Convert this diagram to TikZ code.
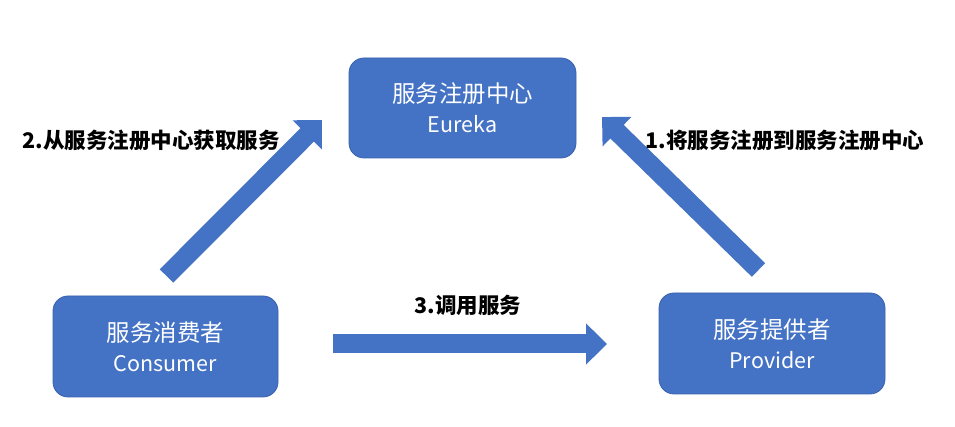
\documentclass[tikz,border=0pt]{standalone}
\usepackage{fontspec}
\setmainfont{Noto Sans CJK SC}
\usetikzlibrary{arrows.meta}
\definecolor{boxblue}{HTML}{4472C4}
\definecolor{boxborder}{HTML}{3A63AD}
\begin{document}
\begin{tikzpicture}[x=1pt,y=1pt,
  svcbox/.style={rectangle, rounded corners=15pt, fill=boxblue, draw=boxborder, line width=0.8pt,
    text=white, align=center, inner sep=0pt, font=\fontsize{23.5}{30}\selectfont},
  latin/.style={},
  blockarrow/.style={line width=19pt, draw=boxblue,
    -{Triangle[length=21pt,width=40pt,fill=boxblue]}},
  steplabel/.style={font=\fontsize{21.5}{26}\selectfont\bfseries, text=black, inner sep=0pt}]
\useasboundingbox (0,0) rectangle (955,427);
\fill[white] (0,0) rectangle (955,427);

\node[svcbox, minimum width=227pt, minimum height=100pt] (eureka) at (462.5,319)
  {服务注册中心\\{\fontsize{21.5}{30}\selectfont Eureka}};
\node[svcbox, minimum width=225pt, minimum height=101pt] (consumer) at (165.5,80.5)
  {服务消费者\\{\fontsize{21.5}{30}\selectfont Consumer}};
\node[svcbox, minimum width=226pt, minimum height=101pt] (provider) at (772,83.5)
  {服务提供者\\{\fontsize{21.5}{30}\selectfont Provider}};

\coordinate (a2tail) at (166.5,151);
\coordinate (a2tip) at (322,307);
\coordinate (a1tail) at (758.5,157);
\coordinate (a1tip) at (602,310);
\coordinate (a3tail) at (333,83);
\coordinate (a3tip) at (607,83);

\draw[blockarrow] (a2tail) -- (a2tip);
\draw[blockarrow] (a1tail) -- (a1tip);
\draw[blockarrow] (a3tail) -- (a3tip);

\node[steplabel] (l2) at (151,287) {2.从服务注册中心获取服务};
\node[steplabel] (l1) at (785,287) {1.将服务注册到服务注册中心};
\node[steplabel] (l3) at (468,122) {3.调用服务};
\end{tikzpicture}
\end{document}
